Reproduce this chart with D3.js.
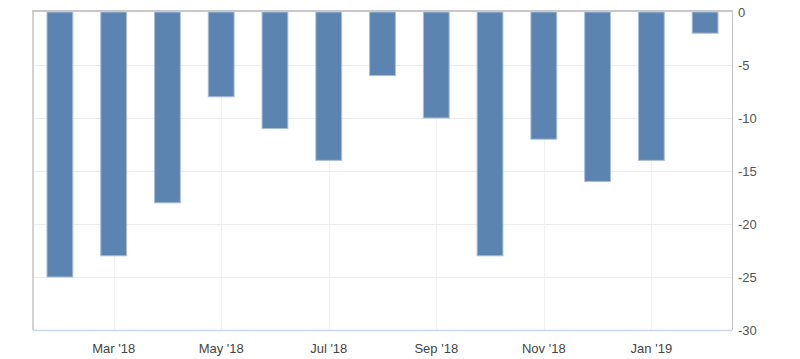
<!DOCTYPE html>
<html><head><meta charset="utf-8">
<script src="https://cdn.jsdelivr.net/npm/d3@7"></script>
<style>body{margin:0;background:#fff}svg{display:block;font-family:"Liberation Sans",Arial,sans-serif}</style>
</head><body>
<svg id="c" width="800" height="359"></svg>
<script>
const months = ["Feb '18","Mar '18","Apr '18","May '18","Jun '18","Jul '18","Aug '18","Sep '18","Oct '18","Nov '18","Dec '18","Jan '19","Feb '19"];
const values = [-25,-23,-18,-8,-11,-14,-6,-10,-23,-12,-16,-14,-2];
const xTickLabels = ["Mar '18","May '18","Jul '18","Sep '18","Nov '18","Jan '19"];
const yTicks = [0,-5,-10,-15,-20,-25,-30];

const svg = d3.select("#c");
const L = 33, R = 732, T = 12, B = 330;
const x = d3.scaleBand().domain(months).range([L, R]).paddingInner(0.52).paddingOuter(0.26);
const y = d3.scaleLinear().domain([-30, 0]).range([B, T]);

// horizontal grid
svg.append("g").selectAll("line").data(yTicks.filter(d => d !== 0 && d !== -30)).join("line")
  .attr("x1", L).attr("x2", R).attr("y1", d => y(d) + 0.5).attr("y2", d => y(d) + 0.5)
  .attr("stroke", "#ececec").attr("stroke-width", 1);
// vertical grid
svg.append("g").selectAll("line").data(xTickLabels).join("line")
  .attr("x1", d => Math.round(x(d) + x.bandwidth() / 2) + 0.5).attr("x2", d => Math.round(x(d) + x.bandwidth() / 2) + 0.5)
  .attr("y1", T).attr("y2", B)
  .attr("stroke", "#f0f0f0").attr("stroke-width", 1);

// bars
svg.append("g").selectAll("rect").data(values).join("rect")
  .attr("x", (d, i) => x(months[i]))
  .attr("width", x.bandwidth())
  .attr("y", d => y(0))
  .attr("height", d => y(d) - y(0))
  .attr("fill", "#5b84b1")
  .attr("stroke", "#a9bfd9").attr("stroke-width", 1);

// borders
svg.append("line").attr("x1", L).attr("x2", L).attr("y1", T).attr("y2", B).attr("stroke", "#c4c4c4").attr("stroke-width", 1.5);
svg.append("line").attr("x1", R + 0.5).attr("x2", R + 0.5).attr("y1", T).attr("y2", B).attr("stroke", "#c4c4c4").attr("stroke-width", 1);
svg.append("line").attr("x1", L).attr("x2", R).attr("y1", B + 0.5).attr("y2", B + 0.5).attr("stroke", "#ccd6eb").attr("stroke-width", 1.5);
svg.append("line").attr("x1", L - 1).attr("x2", R + 1).attr("y1", T - 1).attr("y2", T - 1).attr("stroke", "#c8c8c8").attr("stroke-width", 2);

// right axis labels
const yAxis = d3.axisRight(y).tickValues(yTicks).tickSize(0).tickPadding(6).tickFormat(d => String(d));
const ya = svg.append("g").attr("transform", `translate(${R},0)`).call(yAxis);
ya.select(".domain").remove();
ya.selectAll("text").attr("font-size", 13).attr("fill", "#555").attr("font-family", "Liberation Sans, Arial, sans-serif").attr("dy", "0.35em");

// bottom axis labels
const xAxis = d3.axisBottom(x).tickValues(xTickLabels).tickSize(0).tickPadding(14);
const xa = svg.append("g").attr("transform", `translate(0,${B})`).call(xAxis);
xa.select(".domain").remove();
xa.selectAll("text").attr("font-size", 13).attr("fill", "#444").attr("font-family", "Liberation Sans, Arial, sans-serif");
</script>
</body></html>
